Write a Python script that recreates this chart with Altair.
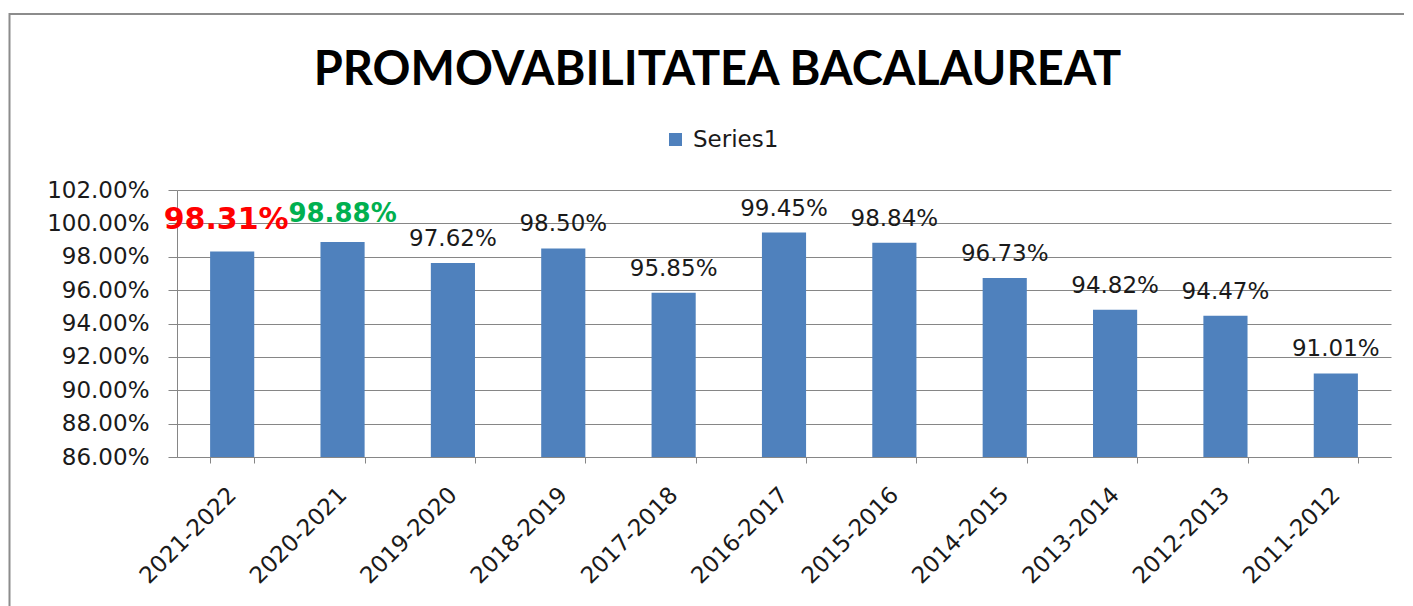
import altair as alt
import pandas as pd

seasons = ["2021-2022", "2020-2021", "2019-2020", "2018-2019", "2017-2018",
           "2016-2017", "2015-2016", "2014-2015", "2013-2014", "2012-2013", "2011-2012"]
rates = [98.31, 98.88, 97.62, 98.50, 95.85, 99.45, 98.84, 96.73, 94.82, 94.47, 91.01]
y_ticks = [86, 88, 90, 92, 94, 96, 98, 100, 102]
title_text = "PROMOVABILITATEA BACALAUREAT"
series_name = "Series1"

df = pd.DataFrame({
    "season": seasons,
    "rate": [r / 100 for r in rates],
    "series": [series_name] * len(seasons),
    "idx": list(range(len(seasons))),
})

FONT = "DejaVu Sans"
GRAY = "#868686"
BLUE = "#4F81BD"

x_scale = alt.Scale(paddingInner=0.6, paddingOuter=0.3)
x_axis = alt.Axis(title=None, labelAngle=-45, labelAlign="right",
                  labelBaseline="middle", labelFontSize=23, labelFont=FONT,
                  labelColor="#1a1a1a", tickBand="extent", tickSize=6,
                  tickColor=GRAY, domainColor=GRAY, labelPadding=28,
                  grid=False, labelOverlap=False)
y_scale = alt.Scale(domain=[0.86, 1.02], nice=False, zero=False)
y_axis = alt.Axis(title=None, values=[round(t / 100, 2) for t in y_ticks],
                  format=".2%", tickCount=9,
                  labelFontSize=23, labelFont=FONT, labelColor="#1a1a1a",
                  tickSize=9, tickColor=GRAY, domainColor=GRAY,
                  gridColor=GRAY, grid=True, labelPadding=19,
                  labelOverlap=False)


def xe():
    return alt.X("season:N", sort=seasons, scale=x_scale, axis=x_axis)


def ye():
    return alt.Y("rate:Q", scale=y_scale, axis=y_axis)


base = alt.Chart(df)

bars = base.mark_bar().encode(
    x=xe(),
    y=ye(),
    y2=alt.datum(0.86),
    color=alt.Color("series:N", scale=alt.Scale(range=[BLUE]),
                    legend=alt.Legend(title=None, orient="none", legendX=487, legendY=-62,
                                      symbolType="square", symbolSize=169,
                                      symbolStrokeWidth=0, labelFontSize=23,
                                      labelFont=FONT, labelColor="#1a1a1a",
                                      padding=0, labelOffset=6)),
)

labels = base.transform_filter("datum.idx >= 2").mark_text(
    baseline="alphabetic", dy=-17, fontSize=23, font=FONT, color="#1a1a1a"
).encode(x=xe(), y=ye(), text=alt.Text("rate:Q", format=".2%"))

label_red = base.transform_filter("datum.idx == 0").mark_text(
    baseline="alphabetic", dx=-6, dy=-23, fontSize=30, fontWeight="bold",
    font=FONT, color="#FF0000"
).encode(x=xe(), y=ye(), text=alt.Text("rate:Q", format=".2%"))

label_green = base.transform_filter("datum.idx == 1").mark_text(
    baseline="alphabetic", dy=-20, fontSize=26, fontWeight="bold",
    font=FONT, color="#00B050"
).encode(x=xe(), y=ye(), text=alt.Text("rate:Q", format=".2%"))

one = alt.Data(values=[{"t": title_text}])

frame = alt.Chart(one).mark_rect(fill="transparent", stroke="#8c8c8c", strokeWidth=2).encode(
    x=alt.value(-167.5), x2=alt.value(1400), y=alt.value(-176), y2=alt.value(700))

title = alt.Chart(one).mark_text(
    font="Lato", fontSize=47, fontWeight="bold", color="#000000",
    align="center", baseline="alphabetic"
).encode(x=alt.value(540.5), y=alt.value(-105), text="t:N")

chart = alt.layer(frame, bars, labels, label_red, label_green, title).properties(
    width=1214, height=267,
    autosize=alt.AutoSizeParams(type="none"),
    padding={"left": 169, "top": 182, "right": 13, "bottom": 149},
).configure_view(stroke="transparent").configure_axis(gridWidth=1, domainWidth=1)

chart.save("out.html", embed_options={"renderer": "svg", "actions": False})
